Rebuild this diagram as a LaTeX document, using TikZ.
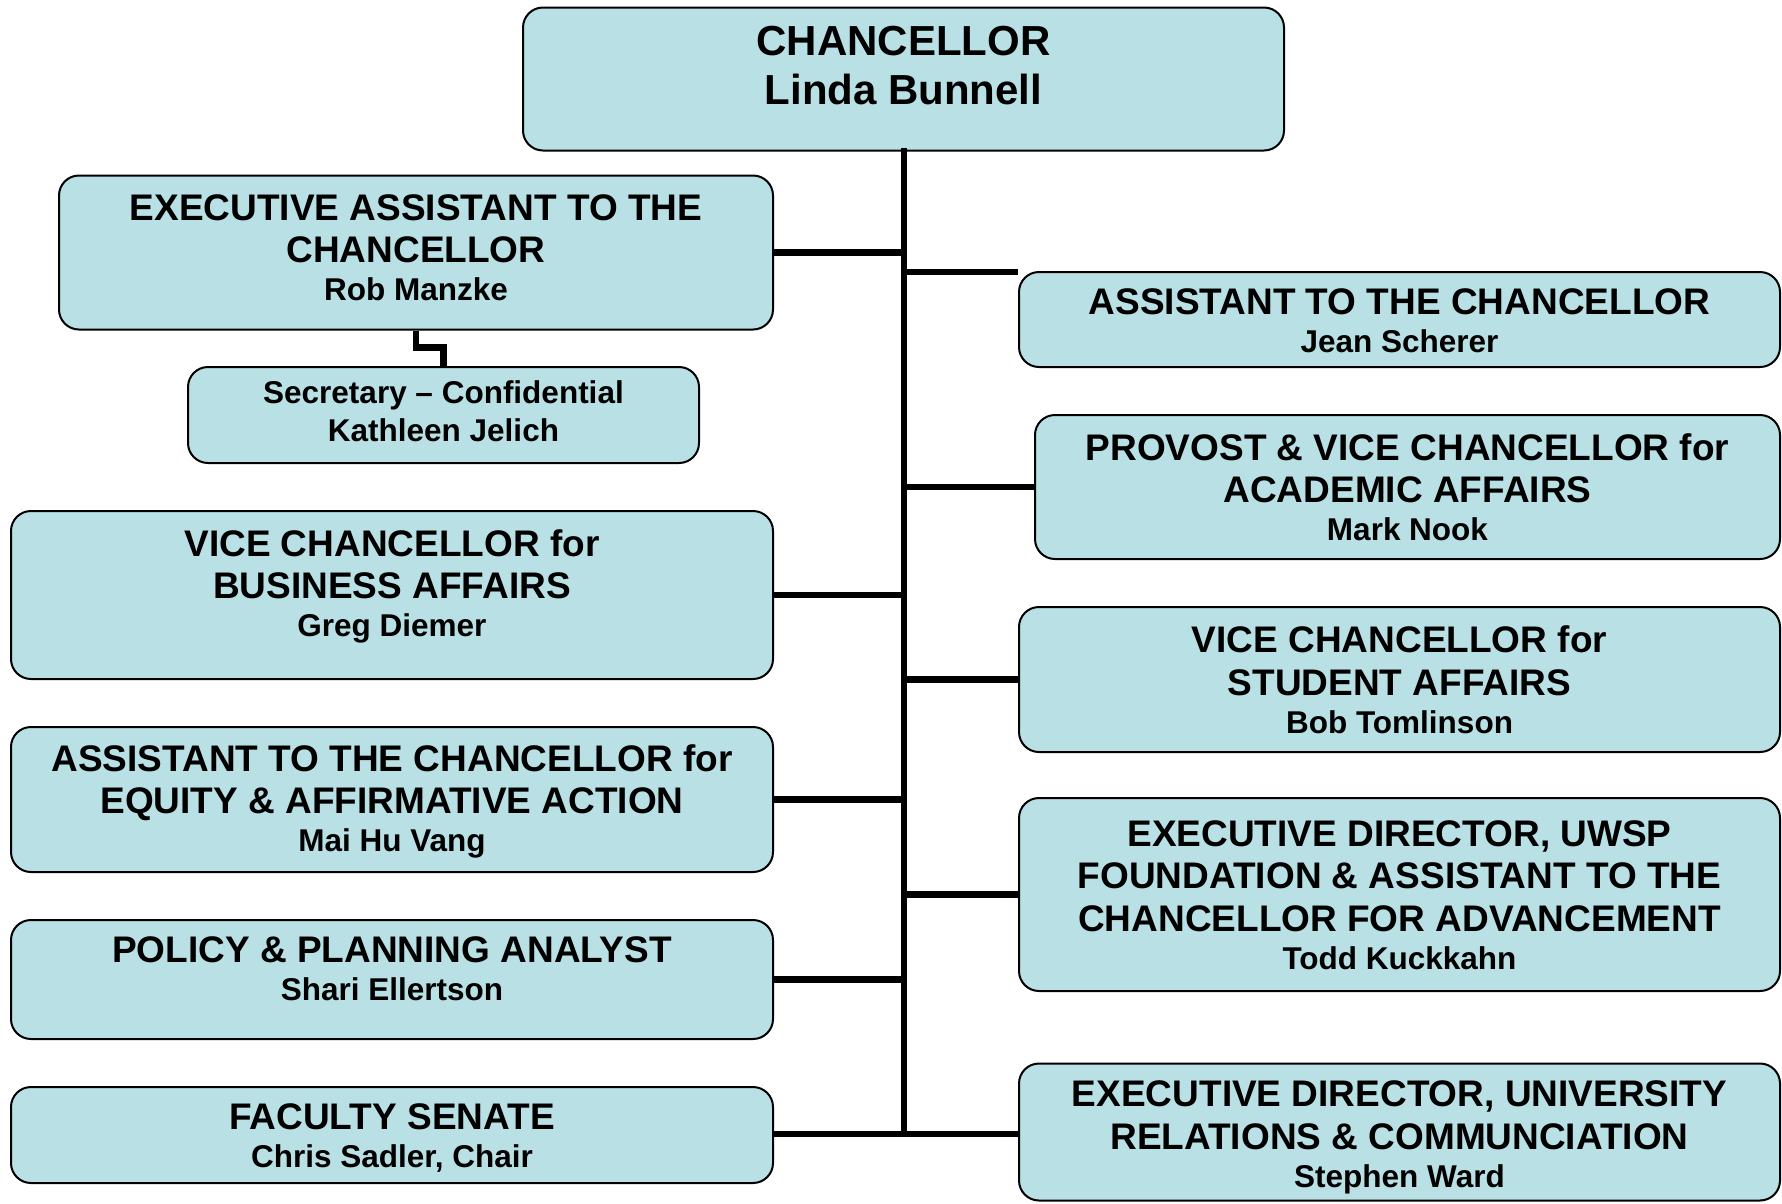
\documentclass[tikz,border=0pt]{standalone}
\usepackage{fontspec}
\setmainfont{Liberation Sans}
\newcommand{\bigttl}{\fontsize{42}{49}\selectfont\bfseries}
\newcommand{\ttlfont}{\fontsize{37}{42.5}\selectfont\bfseries}
\newcommand{\nmfont}{\fontsize{31.5}{38}\selectfont\bfseries}
\definecolor{boxfill}{RGB}{185,224,228}
\tikzset{
  orgbox/.style={draw=black, line width=2pt, fill=boxfill, rounded corners=20pt, inner sep=0pt},
  txt/.style={align=center, inner sep=0pt, font=\ttlfont},
  link/.style={line width=6.5pt}
}
\begin{document}
\begin{tikzpicture}[x=1pt,y=-1pt]
\useasboundingbox (0,0) rectangle (1782,1203);
% boxes
\node[orgbox, minimum width=761pt, minimum height=143pt] (chan) at (903.5,79) {};
\node[orgbox, minimum width=714pt, minimum height=154pt] (ea) at (416,252.5) {};
\node[orgbox, minimum width=511pt, minimum height=96pt] (sec) at (443.5,415) {};
\node[orgbox, minimum width=762pt, minimum height=168pt] (vcb) at (392,595) {};
\node[orgbox, minimum width=762pt, minimum height=145pt] (eq) at (392,799.5) {};
\node[orgbox, minimum width=762pt, minimum height=119pt] (pol) at (392,979.5) {};
\node[orgbox, minimum width=762pt, minimum height=96pt] (fac) at (392,1135) {};
\node[orgbox, minimum width=761pt, minimum height=95pt] (atc) at (1399.5,319.5) {};
\node[orgbox, minimum width=745pt, minimum height=144pt] (prov) at (1407.5,487) {};
\node[orgbox, minimum width=761pt, minimum height=145pt] (vcs) at (1399.5,679.5) {};
\node[orgbox, minimum width=761pt, minimum height=193pt] (uwsp) at (1399.5,894.5) {};
\node[orgbox, minimum width=761pt, minimum height=137pt] (ur) at (1399.5,1132) {};
% texts
\node[txt, font=\bigttl] (chanT) at (903.5,65.5) {CHANCELLOR\\Linda Bunnell};
\node[txt] (eaT) at (416,247.5) {EXECUTIVE ASSISTANT TO THE\\CHANCELLOR\\[-4.5pt]{\nmfont Rob Manzke}};
\node[txt, font=\nmfont] (secT) at (443.5,411) {Secretary – Confidential\\Kathleen Jelich};
\node[txt] (vcbT) at (392,586.5) {VICE CHANCELLOR for\\BUSINESS AFFAIRS\\[-4.5pt]{\nmfont Greg Diemer}};
\node[txt] (eqT) at (392,801.5) {ASSISTANT TO THE CHANCELLOR for\\EQUITY \& AFFIRMATIVE ACTION\\[-4.5pt]{\nmfont Mai Hu Vang}};
\node[txt] (polT) at (392,969) {POLICY \& PLANNING ANALYST\\[-4.5pt]{\nmfont Shari Ellertson}};
\node[txt] (facT) at (392,1138) {FACULTY SENATE\\[-4.5pt]{\nmfont Chris Sadler, Chair}};
\node[txt] (atcT) at (1399.5,321) {ASSISTANT TO THE CHANCELLOR\\[-4.5pt]{\nmfont Jean Scherer}};
\node[txt] (provT) at (1407.5,487) {PROVOST \& VICE CHANCELLOR for\\ACADEMIC AFFAIRS\\[-4.5pt]{\nmfont Mark Nook}};
\node[txt] (vcsT) at (1399.5,679.5) {VICE CHANCELLOR for\\STUDENT AFFAIRS\\[-4.5pt]{\nmfont Bob Tomlinson}};
\node[txt] (uwspT) at (1399.5,895) {EXECUTIVE DIRECTOR, UWSP\\FOUNDATION \& ASSISTANT TO THE\\CHANCELLOR FOR ADVANCEMENT\\[-4.5pt]{\nmfont Todd Kuckkahn}};
\node[txt] (urT) at (1399.5,1137.5) {EXECUTIVE DIRECTOR, UNIVERSITY\\RELATIONS \& COMMUNCIATION\\[-4.5pt]{\nmfont Stephen Ward}};
% connectors
\coordinate (tb) at (904,1134);
\coordinate (stub) at (907,272);
\draw[link, line cap=rect] (chan.south -| tb) -- (tb);
\draw[link] (ea.east) -- (ea.east -| tb);
\draw[link] (stub) -- (stub -| atc.west);
\draw[link] (prov.west) -- (prov.west -| tb);
\draw[link] (vcb.east) -- (vcb.east -| tb);
\draw[link] (vcs.west) -- (vcs.west -| tb);
\draw[link] (eq.east) -- (eq.east -| tb);
\draw[link] (uwsp.west) -- (uwsp.west -| tb);
\draw[link] (pol.east) -- (pol.east -| tb);
\draw[link] (tb -| fac.east) -- (tb -| ur.west);
\draw[link] (ea.south) -- ++(0,17) -| (sec.north);
\end{tikzpicture}
\end{document}
